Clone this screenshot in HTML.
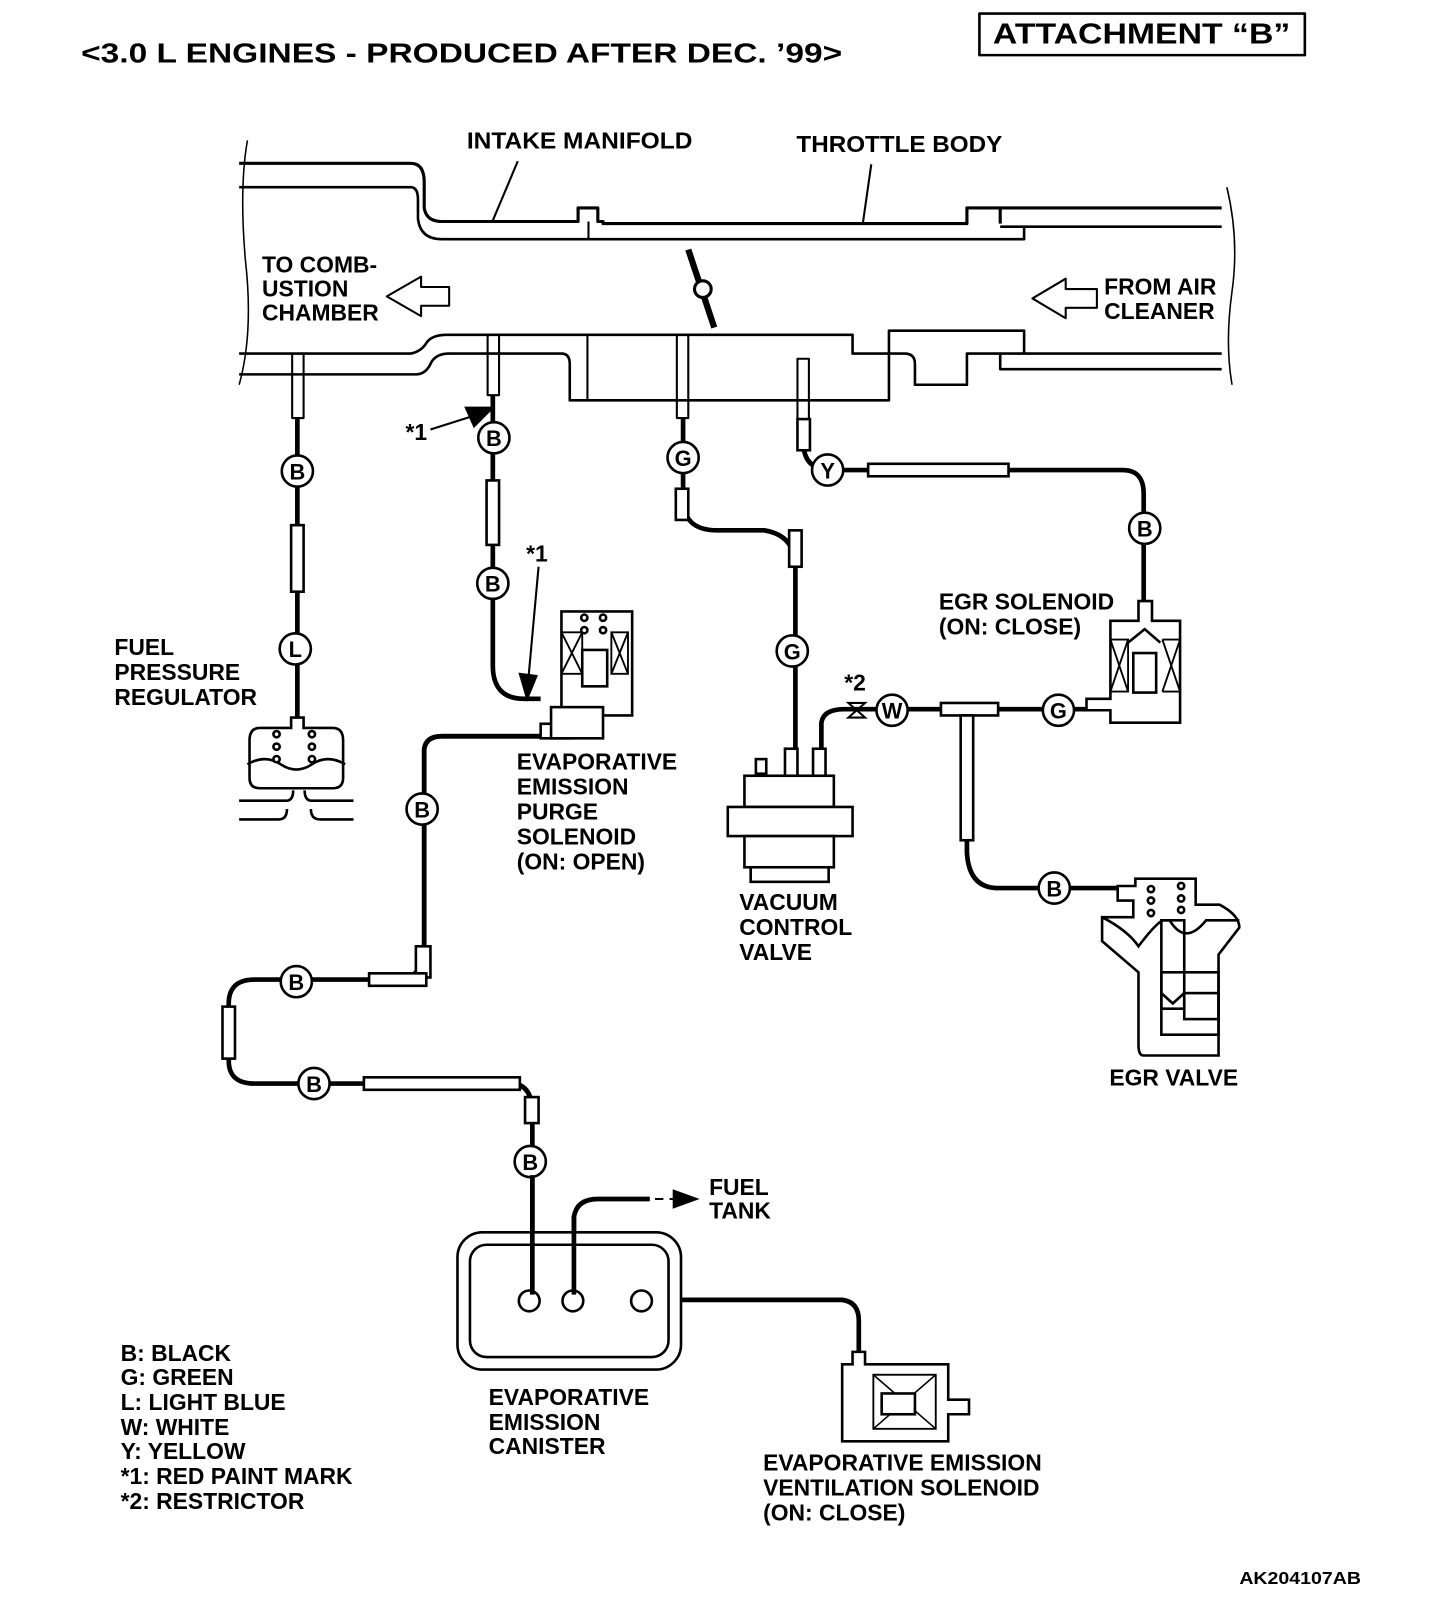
<!DOCTYPE html>
<html><head><meta charset="utf-8"><style>
html,body{margin:0;padding:0;background:#fff;}
svg{display:block;}
text{font-family:"Liberation Sans Narrow","Liberation Sans",sans-serif;font-weight:bold;fill:#000;}
</style></head><body>
<svg width="1440" height="1616" viewBox="0 0 1385 1554" preserveAspectRatio="none" xmlns="http://www.w3.org/2000/svg">
<g fill="none" stroke="#000" stroke-width="3" stroke-linejoin="round">
<rect x="942" y="13" width="313" height="40" stroke-width="2.5"/>
<path d="M238 135 Q230 180 236 250 Q244 320 230 370" stroke-width="1.5"/>
<path d="M1180 180 Q1192 230 1185 280 Q1178 330 1185 370" stroke-width="1.5"/>
<path d="M230 157 H395 Q408 157 408 175 V200 Q410 213 425 213 H556 V200 H575 V213 H580 V215 H930 V200 H962 V215 M962 200 H1175"/>
<path d="M230 180 H395 Q402 180 402 192 V210 Q404 230 425 230 H985 V218 H962 M962 218 H1175" stroke-width="2.5"/>
<line x1="566" y1="213" x2="566" y2="230" stroke-width="2"/>
<path d="M230 340 H395 Q405 338 410 330 Q415 322 430 322 H820 V340 H870 Q880 340 880 350 V370 H930 V340 H962 V355 H1175" stroke-width="2.5"/>
<path d="M230 360 H400 Q410 360 415 348 Q420 340 432 340 H540 Q548 340 548 350 V385 H855 V318 H985 V340 H962 M962 340 H1175" stroke-width="2.5"/>
<line x1="565" y1="322" x2="565" y2="385" stroke-width="2"/>
<path d="M662 240 L687 315" stroke-width="6"/>
<circle cx="676" cy="278" r="8" fill="#fff"/>
<path d="M432 276 H405 V266 L372 285 L405 304 V294 H432 Z" stroke-width="2"/>
<path d="M1055 278 H1025 V268 L993 287 L1025 306 V296 H1055 Z" stroke-width="2"/>
<line x1="498" y1="155" x2="474" y2="212" stroke-width="2"/>
<line x1="838" y1="158" x2="830" y2="214" stroke-width="2"/>
<rect x="281" y="340" width="11" height="62" stroke-width="2"/>
<rect x="469" y="322" width="11" height="58" stroke-width="2"/>
<rect x="651" y="322" width="11" height="80" stroke-width="2"/>
<rect x="767" y="345" width="11" height="58" stroke-width="2"/>
</g>
<g fill="none" stroke="#000" stroke-width="4.5" stroke-linejoin="round">
<path d="M286 402 V690"/>
<path d="M474 380 V640 Q474 672 504 672 H520"/>
<path d="M657 402 V480 Q657 510 690 510 H735 Q765 515 765 545 V720"/>
<path d="M773 403 V430 Q775 452 800 452 H1080 Q1100 452 1100 475 V580"/>
<path d="M790 720 V695 Q792 682 812 682 H1060"/>
<path d="M930 690 V820 Q932 854 960 854 H1085"/>
<path d="M408 910 V720 Q410 708 425 708 H540"/>
<path d="M408 910 Q408 942 380 942 H245 Q220 942 220 965 V1020 Q220 1042 245 1042 H495 Q512 1045 512 1070 V1245"/>
<path d="M552 1245 V1170 Q555 1153 575 1153 H625"/>
<path d="M620 1250 H810 Q826 1252 826 1270 V1310"/>
</g>
<g fill="#fff" stroke="#000" stroke-width="2.5">
<rect x="280" y="505" width="12" height="64"/>
<rect x="468" y="462" width="12" height="62"/>
<rect x="759" y="510" width="12" height="35"/>
<rect x="650" y="470" width="12" height="30"/>
<rect x="835" y="446" width="135" height="12"/>
<rect x="767" y="403" width="12" height="30"/>
<rect x="400" y="910" width="14" height="30"/>
<rect x="355" y="936" width="55" height="12"/>
<rect x="214" y="968" width="12" height="50"/>
<rect x="350" y="1036" width="150" height="12"/>
<rect x="505" y="1055" width="13" height="25"/>
<rect x="905" y="676" width="55" height="12"/>
<rect x="924" y="688" width="12" height="120"/>
<rect x="520" y="696" width="30" height="14"/>
</g>
<g fill="none" stroke="#000" stroke-width="4.5"><path d="M408 910 V720 Q410 708 425 708 H520"/></g>
<g fill="#fff" stroke="#000" stroke-width="2.5">
<circle cx="286" cy="453" r="15"/><circle cx="284" cy="624" r="15"/>
<circle cx="475" cy="421" r="15"/><circle cx="474" cy="561" r="15"/>
<circle cx="657" cy="440" r="15"/><circle cx="762" cy="626" r="15"/>
<circle cx="796" cy="452" r="15"/><circle cx="1101" cy="508" r="15"/>
<circle cx="858" cy="683" r="15"/><circle cx="1018" cy="683" r="15"/>
<circle cx="1014" cy="854" r="15"/><circle cx="406" cy="778" r="15"/>
<circle cx="285" cy="944" r="15"/><circle cx="302" cy="1042" r="15"/>
<circle cx="510" cy="1117" r="15"/>
</g>
<g font-size="21" text-anchor="middle" font-weight="normal">
<text x="286" y="461">B</text><text x="284" y="632">L</text>
<text x="475" y="429">B</text><text x="474" y="569">B</text>
<text x="657" y="448">G</text><text x="762" y="634">G</text>
<text x="796" y="460">Y</text><text x="1101" y="516">B</text>
<text x="858" y="691">W</text><text x="1018" y="691">G</text>
<text x="1014" y="862">B</text><text x="406" y="786">B</text>
<text x="285" y="952">B</text><text x="302" y="1050">B</text>
<text x="510" y="1125">B</text>
</g>
<g stroke="#000" stroke-width="2" fill="#000">
<line x1="414" y1="413" x2="455" y2="400"/><path d="M474 392 L448 392 L456 410 Z"/>
<line x1="518" y1="545" x2="508" y2="655"/><path d="M507 672 L500 648 L516 650 Z"/>
<path d="M816 676 H832 L816 690 H832 Z" fill="none"/>
<path d="M630 1153 L648 1153" stroke-dasharray="8 6"/><path d="M670 1153 L648 1145 L648 1161 Z"/>
</g>
<g fill="#fff" stroke="#000" stroke-width="2.5">
<path d="M280 690 H292 V700 H320 Q330 700 330 712 V748 Q330 758 320 758 H250 Q240 758 240 748 V712 Q240 700 250 700 H280 Z"/>
<path d="M238 735 Q255 725 270 735 Q285 745 300 735 Q315 725 332 735" fill="none"/>
<path d="M230 770 H275 Q282 770 282 760 M340 770 H300 Q293 770 293 760 M230 788 H268 Q276 788 276 778 M340 788 H308 Q299 788 299 778" fill="none"/>
<circle cx="266" cy="706" r="3"/><circle cx="266" cy="718" r="3"/><circle cx="300" cy="706" r="3"/><circle cx="300" cy="718" r="3"/><circle cx="300" cy="730" r="3"/><circle cx="266" cy="730" r="3"/>
<rect x="540" y="588" width="68" height="100"/>
<rect x="530" y="680" width="50" height="30"/>
<rect x="560" y="625" width="24" height="35"/>
<path d="M540 608 L560 648 M560 608 L540 648 M540 608 H560 V648 H540 Z M588 608 L604 648 M604 608 L588 648 M588 608 H604 V648 H588 Z" fill="none" stroke-width="1.8"/>
<circle cx="562" cy="594" r="3"/><circle cx="580" cy="594" r="3"/><circle cx="562" cy="606" r="3"/><circle cx="580" cy="606" r="3"/>
<rect x="727" y="730" width="10" height="14"/><rect x="755" y="720" width="12" height="28"/><rect x="782" y="720" width="12" height="28"/>
<rect x="716" y="746" width="86" height="30"/>
<rect x="700" y="776" width="120" height="28"/>
<rect x="716" y="804" width="86" height="30"/>
<rect x="722" y="834" width="75" height="14"/>
<path d="M1095 578 H1108 V597 H1135 V695 H1068 V683 H1045 V672 H1068 V597 H1095 Z"/>
<path d="M1068 615 L1085 665 M1085 615 L1068 665 M1068 615 H1085 V665 H1068 M1118 615 L1135 665 M1135 615 L1118 665 M1118 615 H1135 V665 H1118" fill="none" stroke-width="1.8"/>
<rect x="1090" y="628" width="22" height="38"/>
<path d="M1085 618 L1101 605 L1116 618" fill="none"/>
<path d="M1075 852 H1092 V845 H1150 V870 H1173 Q1192 880 1192 892 L1172 918 V1015 H1100 Q1095 1015 1095 1005 V935 L1060 905 V882 H1090 V866 H1075 Z"/>
<path d="M1060 882 Q1085 895 1095 910 Q1110 890 1118 885 H1125 Q1140 910 1160 885 H1192" fill="none"/>
<rect x="1117" y="885" width="22" height="85" fill="none"/>
<path d="M1117 955 L1128 965 L1139 955" fill="none"/>
<rect x="1117" y="935" width="55" height="60" fill="none"/>
<rect x="1139" y="955" width="33" height="25" fill="none"/>
<circle cx="1107" cy="855" r="3"/><circle cx="1107" cy="866" r="3"/><circle cx="1107" cy="878" r="3"/><circle cx="1136" cy="852" r="3"/><circle cx="1136" cy="864" r="3"/><circle cx="1136" cy="875" r="3"/>
<rect x="440" y="1185" width="215" height="132" rx="24"/>
<rect x="452" y="1197" width="191" height="108" rx="16" fill="none"/>
<circle cx="509" cy="1251" r="10"/><circle cx="551" cy="1251" r="10"/><circle cx="617" cy="1251" r="10"/>
<path d="M820 1300 H832 V1312 H912 V1346 H932 V1360 H912 V1386 H810 V1312 H820 Z"/>
<rect x="840" y="1322" width="60" height="52" fill="none" stroke-width="1.8"/>
<path d="M840 1322 L900 1374 M900 1322 L840 1374" fill="none" stroke-width="1.5"/>
<rect x="848" y="1340" width="32" height="20"/>
</g>
<g fill="none" stroke="#000" stroke-width="4.5"><path d="M512 1130 V1245 M552 1245 V1170"/></g>
<text x="78" y="60" font-size="27" textLength="732" lengthAdjust="spacingAndGlyphs">&lt;3.0 L ENGINES - PRODUCED AFTER DEC. ’99&gt;</text>
<text x="955" y="42" font-size="28" textLength="286" lengthAdjust="spacingAndGlyphs">ATTACHMENT “B”</text>
<g font-size="22" font-weight="normal">
<text x="449" y="143" textLength="217" lengthAdjust="spacingAndGlyphs">INTAKE MANIFOLD</text>
<text x="766" y="146" textLength="198" lengthAdjust="spacingAndGlyphs">THROTTLE BODY</text>
<text x="252" y="262">TO COMB-</text><text x="252" y="285">USTION</text><text x="252" y="308">CHAMBER</text>
<text x="1062" y="283">FROM AIR</text><text x="1062" y="307">CLEANER</text>
<text x="390" y="423">*1</text><text x="506" y="540">*1</text><text x="812" y="664">*2</text>
<text x="110" y="630">FUEL</text><text x="110" y="654">PRESSURE</text><text x="110" y="678">REGULATOR</text>
<text x="903" y="586">EGR SOLENOID</text><text x="903" y="610">(ON: CLOSE)</text>
<text x="497" y="740">EVAPORATIVE</text><text x="497" y="764">EMISSION</text><text x="497" y="788">PURGE</text><text x="497" y="812">SOLENOID</text><text x="497" y="836">(ON: OPEN)</text>
<text x="711" y="875">VACUUM</text><text x="711" y="899">CONTROL</text><text x="711" y="923">VALVE</text>
<text x="1067" y="1044">EGR VALVE</text>
<text x="682" y="1149">FUEL</text><text x="682" y="1172">TANK</text>
<text x="470" y="1351">EVAPORATIVE</text><text x="470" y="1375">EMISSION</text><text x="470" y="1398">CANISTER</text>
<text x="734" y="1414">EVAPORATIVE EMISSION</text><text x="734" y="1438">VENTILATION SOLENOID</text><text x="734" y="1462">(ON: CLOSE)</text>
<text x="116" y="1309">B: BLACK</text><text x="116" y="1332">G: GREEN</text><text x="116" y="1356">L: LIGHT BLUE</text><text x="116" y="1380">W: WHITE</text><text x="116" y="1403">Y: YELLOW</text><text x="116" y="1427">*1: RED PAINT MARK</text><text x="116" y="1451">*2: RESTRICTOR</text>
</g>
<text x="1192" y="1523" font-size="17" textLength="117" lengthAdjust="spacingAndGlyphs">AK204107AB</text>
</svg>
</body></html>
